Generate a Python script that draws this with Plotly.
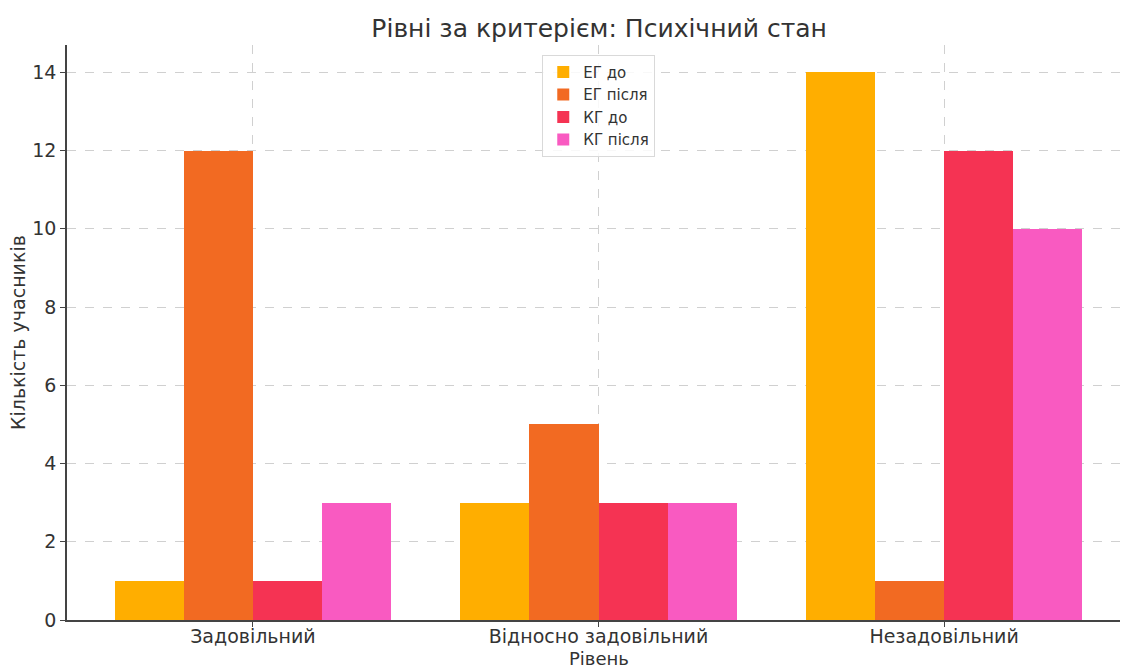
import plotly.graph_objects as go

categories = ["Задовільний", "Відносно задовільний", "Незадовільний"]
series_names = ["ЕГ до", "ЕГ після", "КГ до", "КГ після"]
eg_before = [1, 3, 14]
eg_after = [12, 5, 1]
kg_before = [1, 3, 12]
kg_after = [3, 3, 10]
colors = ["#FFAE00", "#F26A22", "#F53353", "#F95AC1"]

values = [eg_before, eg_after, kg_before, kg_after]
bar_w = 0.2
offsets = [-1.5 * bar_w, -0.5 * bar_w, 0.5 * bar_w, 1.5 * bar_w]

fig = go.Figure()
for name, vals, col, off in zip(series_names, values, colors, offsets):
    fig.add_trace(go.Bar(
        x=[i + off for i in range(len(categories))],
        y=vals,
        width=bar_w,
        name=name,
        marker=dict(color=col, line=dict(width=0)),
    ))

fig.update_layout(
    width=1122, height=670,
    margin=dict(l=67, r=2, t=45, b=50),
    paper_bgcolor="white", plot_bgcolor="white",
    font=dict(family="DejaVu Sans", size=19, color="#333333"),
    title=dict(text="Рівні за критерієм: Психічний стан", x=0.534, xanchor="center",
               y=0.958, yanchor="middle", font=dict(size=25, color="#333333")),
    barmode="overlay",
    bargap=0,
    legend=dict(x=0.505, xanchor="center", y=0.983, yanchor="top",
                bgcolor="rgba(255,255,255,0.85)", bordercolor="#d9d9d9", borderwidth=1,
                font=dict(size=15, color="#333333")),
    showlegend=True,
    annotations=[
        dict(text="Рівень", xref="paper", yref="paper", x=0.505, y=-0.0670,
             xanchor="center", yanchor="middle", showarrow=False,
             font=dict(size=18, color="#333333")),
        dict(text="Кількість учасників", xref="paper", yref="paper", x=-0.047, y=0.5,
             xanchor="center", yanchor="middle", showarrow=False, textangle=-90,
             font=dict(size=19, color="#333333")),
    ],
)
fig.update_xaxes(
    range=[-0.538, 2.509], automargin=False,
    tickmode="array", tickvals=list(range(len(categories))), ticktext=categories,
    showline=True, linecolor="#444444", linewidth=1.5,
    ticks="outside", ticklen=5, tickcolor="#444444",
    ticklabelstandoff=-7,
    showgrid=True, gridcolor="#d0d0d0", griddash="dash", gridwidth=1,
    zeroline=False,
    tickfont=dict(size=19),
)
fig.update_yaxes(
    range=[0, 14.7], automargin=False,
    tickmode="array", tickvals=[0, 2, 4, 6, 8, 10, 12, 14],
    showline=True, linecolor="#444444", linewidth=1.5,
    ticks="outside", ticklen=5, tickcolor="#444444",
    showgrid=True, gridcolor="#d0d0d0", griddash="dash", gridwidth=1,
    zeroline=False,
    tickfont=dict(size=19),
)

fig.write_html("out.html")
